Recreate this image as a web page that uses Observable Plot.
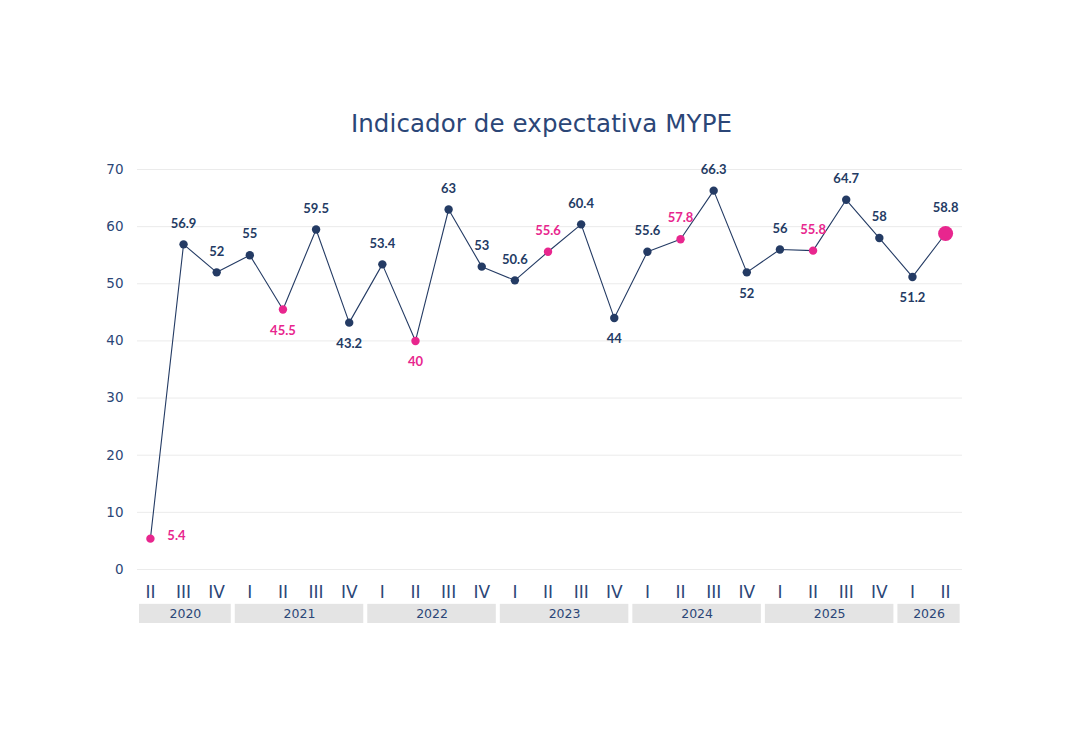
<!DOCTYPE html>
<html>
<head>
<meta charset="utf-8">
<script src="https://cdn.jsdelivr.net/npm/d3@7"></script>
<script src="https://cdn.jsdelivr.net/npm/@observablehq/plot@0.6"></script>
<style>
  html, body { margin: 0; padding: 0; background: #fff; }
  #wrap { position: relative; width: 1080px; height: 734px; }
  #title { position: absolute; left: 0; width: 1083px; top: 109px; text-align: center;
           font-family: "DejaVu Sans", sans-serif; font-size: 24.5px; color: #2b4677; letter-spacing: 0.1px; }
  svg { position: absolute; left: 0; top: 0; }
</style>
</head>
<body>
<div id="wrap">
  <div id="title">Indicador de expectativa MYPE</div>
</div>
<script>
// ---- data ----
const quarters = ["II","III","IV","I","II","III","IV","I","II","III","IV","I","II","III","IV","I","II","III","IV","I","II","III","IV","I","II"];
const quarterYears = [2020,2020,2020,2021,2021,2021,2021,2022,2022,2022,2022,2023,2023,2023,2023,2024,2024,2024,2024,2025,2025,2025,2025,2026,2026];
const values = [5.4,56.9,52,55,45.5,59.5,43.2,53.4,40,63,53,50.6,55.6,60.4,44,55.6,57.8,66.3,52,56,55.8,64.7,58,51.2,58.8];
const years = [2020,2021,2022,2023,2024,2025,2026];
const yTicks = [0,10,20,30,40,50,60,70];
// where each value label sits relative to its point
const labelSide = ["right","above","above","above","below","above","below","above","below","above","above","above","above","above","below","above","above","above","below","above","above","above","above","below","above"];

const navy = "#243b64";
const pink = "#e8268e";
const txt = "#2b4677";

const rows = values.map((v, i) => ({
  i, v, q: quarters[i], year: quarterYears[i],
  last: i === values.length - 1,
  highlight: quarters[i] === "II",
  side: labelSide[i]
}));
const labelColor = d => (d.highlight && !d.last) ? pink : navy;
const bands = years.map(y => {
  const idx = rows.filter(r => r.year === y).map(r => r.i);
  return {year: y, x1: Math.max(d3.min(idx) - 0.5, -0.39), x2: d3.max(idx) + 0.5};
});

const labelStyle = {fontFamily: "Lato, sans-serif", fontWeight: "bold", fontSize: 13};

const chart = Plot.plot({
  width: 1080,
  height: 734,
  marginLeft: 137,
  marginRight: 118,
  marginTop: 169,
  marginBottom: 165,
  style: {fontFamily: "Lato, sans-serif", background: "transparent", overflow: "visible"},
  x: {type: "linear", domain: [-0.39, 24.51], axis: null},
  y: {domain: [0, 70], axis: null},
  marks: [
    Plot.ruleY(yTicks, {stroke: "#ebebeb", strokeWidth: 1}),
    // y tick labels
    Plot.text(yTicks, {x: -0.39, y: d => d, text: d => String(d), textAnchor: "end", dx: -14,
      fill: txt, fontSize: 13.5, fontFamily: "DejaVu Sans, sans-serif"}),
    // quarter labels
    Plot.text(rows, {x: "i", y: 0, text: "q", dy: 23, fill: txt, fontSize: 17,
      fontFamily: "DejaVu Sans, sans-serif", fontWeight: "normal"}),
    // year bands
    Plot.rect(bands, {x1: "x1", x2: "x2", y1: -6.1, y2: -9.45, fill: "#e4e4e4", insetLeft: 2, insetRight: 2}),
    Plot.text(bands, {x: d => (d.x1 + d.x2) / 2, y: -7.8, text: d => String(d.year), fill: txt,
      fontSize: 12.5, fontFamily: "DejaVu Sans, sans-serif"}),
    // line
    Plot.line(rows, {x: "i", y: "v", stroke: navy, strokeWidth: 1.1}),
    // points
    Plot.dot(rows.filter(r => !r.last), {x: "i", y: "v", r: 4.2, fill: d => d.highlight ? pink : navy, stroke: "none"}),
    Plot.dot(rows.filter(r => r.last), {x: "i", y: "v", r: 7.5, fill: pink, stroke: "none"}),
    // value labels
    Plot.text(rows.filter(r => r.side === "above" && !r.last), {x: "i", y: "v", text: d => String(d.v), dy: -21,
      fill: labelColor, ...labelStyle}),
    Plot.text(rows.filter(r => r.last), {x: "i", y: "v", text: d => String(d.v), dy: -26,
      fill: labelColor, ...labelStyle}),
    Plot.text(rows.filter(r => r.side === "below"), {x: "i", y: "v", text: d => String(d.v), dy: 21,
      fill: labelColor, ...labelStyle}),
    Plot.text(rows.filter(r => r.side === "right"), {x: "i", y: "v", text: d => String(d.v), dx: 26, dy: -3,
      fill: labelColor, ...labelStyle})
  ]
});
document.getElementById("wrap").appendChild(chart);
</script>
</body>
</html>
